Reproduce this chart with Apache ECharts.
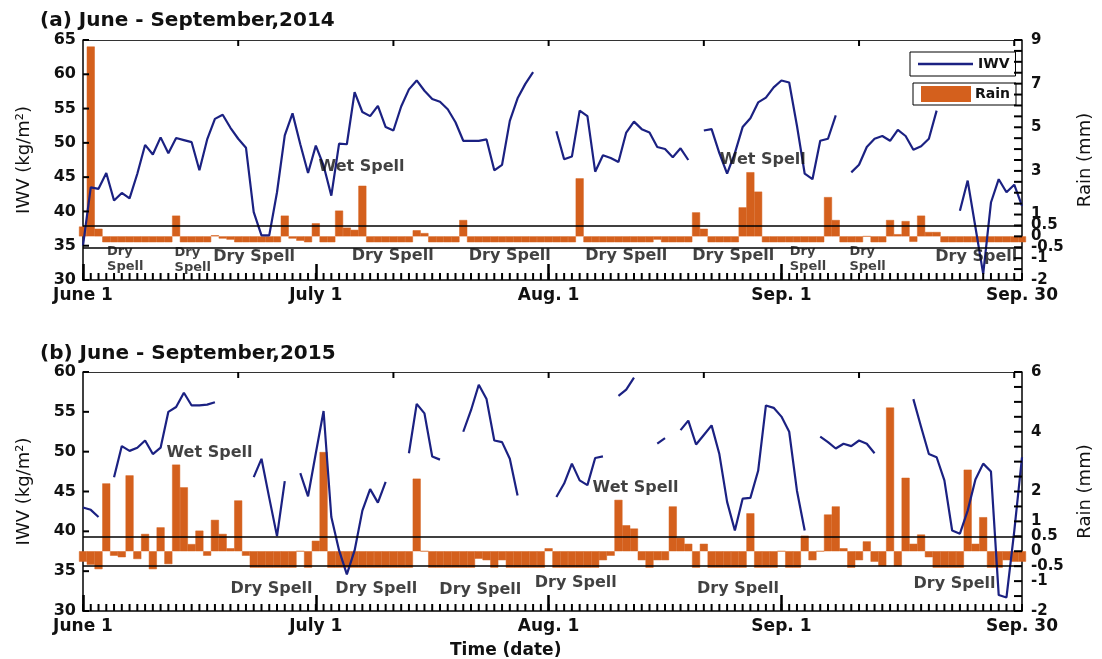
<!DOCTYPE html>
<html>
<head>
<meta charset="utf-8">
<script src="https://cdn.jsdelivr.net/npm/echarts@6/dist/echarts.min.js"></script>
<style>
  html, body { margin: 0; padding: 0; background: #ffffff; }
  #chart { width: 1102px; height: 659px; }
</style>
</head>
<body>
<div id="chart"></div>
<script>
// Day index 0 = June 1 ... 121 = Sep 30
const monthTicks = [0, 30, 60, 90, 121];
const monthLabels = ['June 1', 'July 1', 'Aug. 1', 'Sep. 1', 'Sep. 30'];
const majorDayTicks = [0, 30, 60, 90];
const topDayTicks = [20, 40, 60, 80, 100, 120];
const rainTicks2014 = [9, 7, 5, 3, 1, 0.5, 0, -0.5, -1, -2];
const rainTicks2015 = [6, 4, 2, 1, 0.5, 0, -0.5, -1, -2];

// Integrated water vapour (kg/m2), one value per day; null = missing
const iwv2014 = [
  35, 43.5, 43.3, 45.6, 41.6, 42.7, 41.9, 45.5, 49.7, 48.3,
  50.8, 48.5, 50.7, 50.4, 50.1, 46.0, 50.5, 53.5, 54.1, 52.2,
  50.6, 49.3, 39.9, 36.5, 36.5, 42.8, 51.1, 54.3, 49.8, 45.6,
  49.6, 46.7, 42.3, 49.9, 49.8, 57.4, 54.5, 53.9, 55.4, 52.3,
  51.8, 55.3, 57.8, 59.1, 57.6, 56.4, 56.0, 54.9, 53.0, 50.3,
  50.3, 50.3, 50.5, 46.0, 46.8, 53.2, 56.5, 58.6, 60.3, null,
  null, 51.7, 47.6, 48.0, 54.7, 53.9, 45.8, 48.2, 47.8, 47.2,
  51.5, 53.1, 52.0, 51.5, 49.4, 49.1, 47.9, 49.2, 47.5, null,
  51.8, 52.0, 48.5, 45.5, 48.5, 52.3, 53.6, 55.9, 56.6, 58.1,
  59.1, 58.8, 52.5, 45.5, 44.7, 50.3, 50.6, 54.0, null, 45.7,
  46.8, 49.4, 50.6, 51.0, 50.3, 51.9, 51.0, 49.0, 49.5, 50.6,
  54.7, null, null, 40.1, 44.5, 37.7, 30.9, 41.3, 44.7, 42.8,
  43.9, 40.8
];
const iwv2015 = [
  43.0, 42.7, 41.8, null, 46.8, 50.7, 50.1, 50.5, 51.4, 49.7,
  50.5, 55.0, 55.6, 57.4, 55.8, 55.8, 55.9, 56.2, null, null,
  null, null, 46.8, 49.1, 44.2, 39.4, 46.3, null, 47.3, 44.4,
  49.8, 55.1, 41.8, 37.6, 34.6, 37.6, 42.6, 45.3, 43.6, 46.2,
  null, null, 49.8, 56.0, 54.8, 49.4, 49.0, null, null, 52.5,
  55.2, 58.4, 56.6, 51.4, 51.2, 49.1, 44.5, null, null, null,
  null, 44.3, 46.0, 48.5, 46.4, 45.8, 49.2, 49.4, null, 57.0,
  57.8, 59.3, null, null, 51.0, 51.7, null, 52.7, 53.9, 50.9,
  52.1, 53.3, 49.7, 43.7, 40.1, 44.1, 44.2, 47.6, 55.8, 55.5,
  54.4, 52.5, 45.1, 40.1, null, 51.9, 51.2, 50.4, 51.0, 50.7,
  51.4, 51.0, 49.8, null, null, null, null, 56.6, 53.1, 49.7,
  49.3, 46.4, 40.1, 39.7, 42.6, 46.5, 48.5, 47.5, 32.0, 31.7,
  40.0, 49.3
];

// Rain (mm), one value per day
const rain2014 = [
  0.45, 8.7, 0.35, -0.27, -0.27, -0.27, -0.27, -0.27, -0.27, -0.27,
  -0.27, -0.27, 0.95, -0.27, -0.27, -0.27, -0.27, 0.05, -0.1, -0.15,
  -0.27, -0.27, -0.27, -0.27, -0.27, -0.27, 0.95, -0.1, -0.2, -0.27,
  0.6, -0.27, -0.27, 1.18, 0.4, 0.3, 2.32, -0.27, -0.27, -0.27,
  -0.27, -0.27, -0.27, 0.28, 0.15, -0.27, -0.27, -0.27, -0.27, 0.75,
  -0.27, -0.27, -0.27, -0.27, -0.27, -0.27, -0.27, -0.27, -0.27, -0.27,
  -0.27, -0.27, -0.27, -0.27, 2.66, -0.27, -0.27, -0.27, -0.27, -0.27,
  -0.27, -0.27, -0.27, -0.27, -0.15, -0.27, -0.27, -0.27, -0.27, 1.1,
  0.35, -0.27, -0.27, -0.27, -0.27, 1.33, 2.94, 2.05, -0.27, -0.27,
  -0.27, -0.27, -0.27, -0.27, -0.27, -0.27, 1.8, 0.75, -0.27, -0.27,
  -0.27, 0, -0.27, -0.27, 0.75, 0.1, 0.7, -0.25, 0.95, 0.2,
  0.2, -0.27, -0.27, -0.27, -0.27, -0.27, -0.27, -0.27, -0.27, -0.27,
  -0.27, -0.27
];
const rain2015 = [
  -0.35, -0.45, -0.6, 2.27, -0.15, -0.2, 2.54, -0.26, 0.58, -0.6,
  0.8, -0.43, 2.9, 2.14, 0.24, 0.69, -0.15, 1.05, 0.58, 0.1,
  1.7, -0.15, -0.55, -0.55, -0.55, -0.55, -0.55, -0.55, 0, -0.55,
  0.35, 3.32, -0.55, -0.55, -0.55, -0.55, -0.55, -0.55, -0.55, -0.55,
  -0.55, -0.55, -0.55, 2.43, 0, -0.55, -0.55, -0.55, -0.55, -0.55,
  -0.55, -0.25, -0.3, -0.55, -0.3, -0.55, -0.55, -0.55, -0.55, -0.55,
  0.1, -0.55, -0.55, -0.55, -0.55, -0.55, -0.55, -0.3, -0.15, 1.72,
  0.87, 0.76, -0.3, -0.55, -0.3, -0.3, 1.5, 0.45, 0.25, -0.55,
  0.25, -0.55, -0.55, -0.55, -0.55, -0.55, 1.27, -0.55, -0.55, -0.55,
  0, -0.55, -0.55, 0.52, -0.3, 0, 1.23, 1.5, 0.1, -0.55,
  -0.3, 0.33, -0.35, -0.5, 4.81, -0.5, 2.46, 0.25, 0.56, -0.2,
  -0.55, -0.55, -0.55, -0.55, 2.73, 0.25, 1.14, -0.55, -0.55, -0.3,
  -0.35, -0.35
];

// Spell annotations: [text, day, IWV]
const notes2014 = [
  ['Dry\nSpell', 3.1, 33.0], ['Dry\nSpell', 11.8, 32.9],
  ['Dry Spell', 22.05, 33.35], ['Dry Spell', 39.9, 33.5], ['Dry Spell', 55.0, 33.5],
  ['Dry Spell', 70.0, 33.5], ['Dry Spell', 83.8, 33.5],
  ['Dry\nSpell', 91.07, 33.0], ['Dry\nSpell', 98.76, 33.0],
  ['Dry Spell', 115.1, 33.35],
  ['Wet Spell', 35.9, 46.5], ['Wet Spell', 87.6, 47.5]
];
const notes2015 = [
  ['Wet Spell', 16.3, 49.9], ['Dry Spell', 24.3, 32.75], ['Dry Spell', 37.8, 32.75],
  ['Dry Spell', 51.2, 32.6], ['Dry Spell', 63.5, 33.5], ['Wet Spell', 71.2, 45.5],
  ['Dry Spell', 84.4, 32.75], ['Dry Spell', 112.3, 33.4]
];

const FONT = '"DejaVu Sans", "Liberation Sans", sans-serif';
const INK = '#000000';
const TEXT = '#111111';
const IWV_COLOR = '#1b2182';
const RAIN_COLOR = '#d4601d';
const LAST_DAY = 121;
const IWV_MIN = 30;
const RAIN_MIN = -2;

// tick positions: every day along the bottom, every 5 kg/m2, every 0.5 mm
function steps(from, to, step) {
  const out = [];
  for (let v = from; v <= to + 1e-9; v += step) out.push(Math.round(v * 100) / 100);
  return out;
}
const dailyTicks = steps(0, LAST_DAY, 1);

// short frame ticks: thin rectangles anchored on the frame, shifted into the plot
function tickMarks(xIdx, yIdx, points, size, offset) {
  return {
    type: 'scatter', name: 'ticks', xAxisIndex: xIdx, yAxisIndex: yIdx,
    silent: true, clip: false, z: 10,
    symbol: 'rect', symbolSize: size, symbolOffset: offset,
    itemStyle: { color: INK, opacity: 1 },
    label: { show: false },
    data: points
  };
}

const panels = [
  { title: '(a) June - September,2014', iwv: iwv2014, rain: rain2014, iwvMax: 65,
    rainMax: 9, rainTicks: rainTicks2014, notes: notes2014, top: 40, height: 240 },
  { title: '(b) June - September,2015', iwv: iwv2015, rain: rain2015, iwvMax: 60,
    rainMax: 6, rainTicks: rainTicks2015, notes: notes2015, top: 372, height: 239 }
];

const grid = [], xAxis = [], yAxis = [], series = [];
const X_PER_GRID = 3;

panels.forEach((p, gi) => {
  grid.push({ left: 83, right: 75, top: p.top, height: p.height, containLabel: false });

  const xBase = X_PER_GRID * gi, yBase = 2 * gi;
  const dayScale = () => ({ gridIndex: gi, type: 'value', min: 0, max: LAST_DAY,
    splitLine: { show: false } });

  // bottom axis: frame line + month labels
  xAxis.push(Object.assign(dayScale(), {
    position: 'bottom',
    axisLine: { show: true, onZero: false, lineStyle: { color: INK, width: 1.5 } },
    axisTick: { show: false },
    axisLabel: {
      show: true, customValues: monthTicks,
      formatter: v => monthLabels[monthTicks.indexOf(v)],
      color: TEXT, fontFamily: FONT, fontWeight: 'bold', fontSize: 17, margin: 7
    }
  }));
  // bottom axis: long month ticks
  xAxis.push(Object.assign(dayScale(), {
    position: 'bottom',
    axisLine: { show: false, onZero: false },
    axisTick: { show: true, customValues: majorDayTicks, inside: true, length: 16,
      lineStyle: { color: INK, width: 2.5 } },
    axisLabel: { show: false }
  }));
  // top frame
  xAxis.push(Object.assign(dayScale(), {
    position: 'top',
    axisLine: { show: true, onZero: false, lineStyle: { color: '#333333', width: 1.2 } },
    axisTick: { show: false },
    axisLabel: { show: false }
  }));

  yAxis.push({
    gridIndex: gi, type: 'value', position: 'left', min: IWV_MIN, max: p.iwvMax, interval: 5,
    name: 'IWV (kg/m²)', nameLocation: 'middle', nameGap: 50, nameRotate: 90,
    nameTextStyle: { fontFamily: FONT, fontSize: 18, color: TEXT },
    axisLine: { show: true, onZero: false, lineStyle: { color: INK, width: 1.5 } },
    axisTick: { show: false },
    axisLabel: { show: true, color: TEXT, fontFamily: FONT, fontWeight: 'bold', fontSize: 16, margin: 7 },
    splitLine: { show: false }
  });
  yAxis.push({
    gridIndex: gi, type: 'value', position: 'right', min: RAIN_MIN, max: p.rainMax, interval: 0.5,
    name: 'Rain (mm)', nameLocation: 'middle', nameGap: 54, nameRotate: 90,
    nameTextStyle: { fontFamily: FONT, fontSize: 18, color: TEXT },
    axisLine: { show: true, onZero: false, lineStyle: { color: INK, width: 1.5 } },
    axisTick: { show: false },
    axisLabel: {
      show: true, customValues: p.rainTicks, formatter: v => String(v),
      color: TEXT, fontFamily: FONT, fontWeight: 'bold', fontSize: 15, margin: 9
    },
    splitLine: { show: false }
  });

  series.push({
    type: 'bar', name: 'Rain', xAxisIndex: xBase, yAxisIndex: yBase + 1,
    data: p.rain.map((v, i) => [i, v]),
    barWidth: 8, z: 2, clip: true,
    itemStyle: { color: RAIN_COLOR, borderColor: RAIN_COLOR, borderWidth: 0.5 },
    markLine: {
      silent: true, symbol: 'none', label: { show: false },
      lineStyle: { color: INK, type: 'solid', width: 1.5 },
      data: [{ yAxis: 0.5 }, { yAxis: -0.5 }]
    }
  });
  series.push({
    type: 'line', name: 'IWV', xAxisIndex: xBase, yAxisIndex: yBase,
    data: p.iwv.map((v, i) => [i, v]),
    symbol: 'none', connectNulls: false, z: 4,
    lineStyle: { color: IWV_COLOR, width: 2.2 },
    itemStyle: { color: IWV_COLOR }
  });
  series.push({
    type: 'scatter', name: 'notes', xAxisIndex: xBase, yAxisIndex: yBase,
    silent: true, z: 6, symbolSize: 1,
    itemStyle: { color: 'rgba(0,0,0,0)' },
    label: { show: true, position: 'inside', formatter: '{b}', color: TEXT,
      fontFamily: FONT, fontWeight: 'bold' },
    data: p.notes.map(n => {
      const stacked = n[0].indexOf('\n') >= 0;
      return {
        name: n[0], value: [n[1], n[2]],
        label: stacked
          ? { fontSize: 13, lineHeight: 15, align: 'left', verticalAlign: 'middle' }
          : { fontSize: 16, align: 'center', verticalAlign: 'middle' }
      };
    })
  });

  // frame ticks: daily along the bottom, 20-day along the top, left and right scales
  series.push(tickMarks(xBase, yBase, dailyTicks.map(d => [d, IWV_MIN]), [2, 7], [0, -3.5]));
  series.push(tickMarks(xBase, yBase, topDayTicks.map(d => [d, p.iwvMax]), [2, 6], [0, 3]));
  series.push(tickMarks(xBase, yBase, steps(IWV_MIN, p.iwvMax, 5).map(v => [0, v]), [6, 2], [3, 0]));
  series.push(tickMarks(xBase, yBase + 1,
    steps(RAIN_MIN, p.rainMax, 0.5).map(v => [LAST_DAY, v]), [8, 2], [-4, 0]));
});

const chart = echarts.init(document.getElementById('chart'), null, { renderer: 'canvas' });
chart.setOption({
  animation: false,
  backgroundColor: '#ffffff',
  title: [
    { text: panels[0].title, left: 35, top: 6,
      textStyle: { fontFamily: FONT, fontWeight: 'bold', fontSize: 20, color: TEXT } },
    { text: panels[1].title, left: 35, top: 339,
      textStyle: { fontFamily: FONT, fontWeight: 'bold', fontSize: 20, color: TEXT } },
    { text: 'Time (date)', left: 445, top: 637,
      textStyle: { fontFamily: FONT, fontWeight: 'bold', fontSize: 17, color: TEXT } }
  ],
  legend: [
    { data: [{ name: 'IWV', icon: 'rect' }], left: 910, top: 52, borderColor: INK, borderWidth: 1,
      padding: [5, 6, 5, 8], itemWidth: 55, itemHeight: 2.5, selectedMode: false,
      textStyle: { fontFamily: FONT, fontWeight: 'bold', fontSize: 14, color: TEXT } },
    { data: [{ name: 'Rain', icon: 'rect' }], left: 913, top: 83, borderColor: INK, borderWidth: 1,
      padding: [3, 6, 3, 8], itemWidth: 48, itemHeight: 14, selectedMode: false,
      textStyle: { fontFamily: FONT, fontWeight: 'bold', fontSize: 14, color: TEXT } }
  ],
  grid, xAxis, yAxis, series
});
</script>
</body>
</html>
